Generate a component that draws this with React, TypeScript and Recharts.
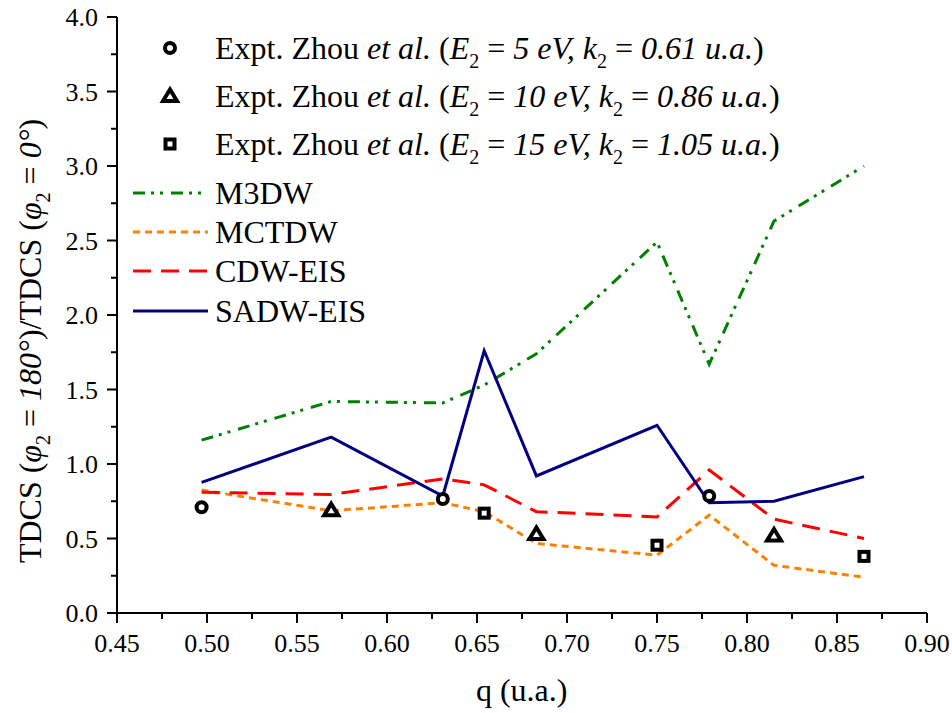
import React from "react";
import {
  ComposedChart,
  Line,
  Scatter,
  XAxis,
  YAxis,
  Legend,
} from "recharts";

// momentum transfer values where the theory curves are sampled
const qValues = [0.497, 0.569, 0.631, 0.654, 0.683, 0.75, 0.779, 0.815, 0.865];

const m3dw = [1.16, 1.42, 1.41, 1.53, 1.74, 2.49, 1.67, 2.63, 3.0];
const mctdw = [0.825, 0.686, 0.74, 0.68, 0.467, 0.388, 0.657, 0.32, 0.24];
const cdwEis = [0.81, 0.795, 0.9, 0.86, 0.68, 0.645, 0.96, 0.63, 0.5];
const sadwEis = [0.877, 1.18, 0.785, 1.76, 0.92, 1.26, 0.74, 0.75, 0.915];

// experiment (Zhou et al.)
const expt5Q = [0.497, 0.631, 0.779];
const expt5 = [0.71, 0.765, 0.785];
const expt10Q = [0.569, 0.683, 0.815];
const expt10 = [0.69, 0.53, 0.52];
const expt15Q = [0.654, 0.75, 0.865];
const expt15 = [0.67, 0.455, 0.38];

const xTicks = [
  0.45, 0.475, 0.5, 0.525, 0.55, 0.575, 0.6, 0.625, 0.65, 0.675, 0.7, 0.725,
  0.75, 0.775, 0.8, 0.825, 0.85, 0.875, 0.9,
];
const yTicks = [
  0, 0.25, 0.5, 0.75, 1, 1.25, 1.5, 1.75, 2, 2.25, 2.5, 2.75, 3, 3.25, 3.5,
  3.75, 4,
];

const toRows = (qs: number[], vs: number[]) => qs.map((q, i) => ({ q, v: vs[i] }));

const FONT = "Liberation Serif";

const isMajor = (v: number, step: number) =>
  Math.abs(v / step - Math.round(v / step)) < 1e-6;

function XTick(props: any) {
  const { x, y, payload } = props;
  const major = isMajor(payload.value, 0.05);
  return (
    <g>
      <line x1={x} y1={y} x2={x} y2={y + (major ? 10 : 6)} stroke="#000" strokeWidth={2} />
      {major && (
        <text x={x} y={y + 39} textAnchor="middle" fontFamily={FONT} fontSize={26} fill="#000">
          {payload.value.toFixed(2)}
        </text>
      )}
    </g>
  );
}

function YTick(props: any) {
  const { x, y, payload } = props;
  const major = isMajor(payload.value, 0.5);
  return (
    <g>
      <line x1={x} y1={y} x2={x - (major ? 10 : 6)} y2={y} stroke="#000" strokeWidth={2} />
      {major && (
        <text x={x - 19} y={y + 9} textAnchor="end" fontFamily={FONT} fontSize={26} fill="#000">
          {payload.value.toFixed(1)}
        </text>
      )}
    </g>
  );
}

function YLabel() {
  return (
    <text
      transform="translate(41,341) rotate(-90)"
      textAnchor="middle"
      fontFamily={FONT}
      fontSize={32}
      fill="#000"
    >
      {"TDCS ("}
      <tspan fontStyle="italic">φ</tspan>
      <tspan fontSize={20} dy={9}>2</tspan>
      <tspan dy={-9}>{" = "}</tspan>
      <tspan fontStyle="italic">180°</tspan>
      {")/TDCS ("}
      <tspan fontStyle="italic">φ</tspan>
      <tspan fontSize={20} dy={9}>2</tspan>
      <tspan dy={-9}>{" = "}</tspan>
      <tspan fontStyle="italic">0°</tspan>
      {")"}
    </text>
  );
}

const Circle = (p: any) => (
  <circle cx={p.cx} cy={p.cy} r={5} fill="#fff" stroke="#000" strokeWidth={4} />
);
const Triangle = (p: any) => (
  <path
    d={`M${p.cx},${p.cy - 6.5} L${p.cx + 7},${p.cy + 5} L${p.cx - 7},${p.cy + 5} Z`}
    fill="#fff"
    stroke="#000"
    strokeWidth={4}
    strokeLinejoin="miter"
  />
);
const Square = (p: any) => (
  <rect x={p.cx - 4.5} y={p.cy - 4.5} width={9} height={9} fill="#fff" stroke="#000" strokeWidth={4} />
);

const exptLegend = [
  { shape: Circle, e: "5", k: "0.61" },
  { shape: Triangle, e: "10", k: "0.86" },
  { shape: Square, e: "15", k: "1.05" },
];

const lineStyles = [
  { name: "M3DW", color: "#008000", dash: "12 6 3 6 3 8", values: m3dw },
  { name: "MCTDW", color: "#ff8000", dash: "7 5", values: mctdw },
  { name: "CDW-EIS", color: "#ff0000", dash: "18 10", values: cdwEis },
  { name: "SADW-EIS", color: "#000080", dash: undefined, values: sadwEis },
];

function ChartLegend() {
  const lineRowsY = [193, 232, 271, 311];
  return (
    <svg width={952} height={713} style={{ position: "absolute", left: 0, top: 0 }}>
      {exptLegend.map((r, i) => {
        const cy = 48 + i * 48;
        const S = r.shape;
        return (
          <g key={r.e}>
            <S cx={170} cy={cy} />
            <text x={215} y={cy + 11} fontFamily={FONT} fontSize={32} fill="#000">
              {"Expt. Zhou "}
              <tspan fontStyle="italic">et al.</tspan>
              {" ("}
              <tspan fontStyle="italic">E</tspan>
              <tspan fontSize={20} dy={9}>2</tspan>
              <tspan dy={-9}>{" = "}</tspan>
              <tspan fontStyle="italic">{`${r.e} eV, k`}</tspan>
              <tspan fontSize={20} dy={9}>2</tspan>
              <tspan dy={-9}>{" = "}</tspan>
              <tspan fontStyle="italic">{`${r.k} u.a.`}</tspan>
              {")"}
            </text>
          </g>
        );
      })}
      {lineStyles.map((l, i) => {
        const y = lineRowsY[i];
        return (
          <g key={l.name}>
            <line x1={133} y1={y} x2={208} y2={y} stroke={l.color} strokeWidth={3} strokeDasharray={l.dash} />
            <text x={215} y={y + 11} fontFamily={FONT} fontSize={32} fill="#000">
              {l.name}
            </text>
          </g>
        );
      })}
    </svg>
  );
}

export default function App() {
  return (
    <div style={{ position: "absolute", left: 0, top: 0, width: 952, height: 713, background: "#fff" }}>
      <ComposedChart width={952} height={713} margin={{ top: 17, right: 25, bottom: 0, left: 0 }}>
        <XAxis
          xAxisId={0}
          dataKey="q"
          type="number"
          domain={[0.45, 0.9]}
          ticks={xTicks}
          interval={0}
          tickSize={0}
          tickMargin={0}
          tickLine={false}
          tick={<XTick />}
          height={100}
          axisLine={{ stroke: "#000", strokeWidth: 2 }}
          allowDataOverflow
        />
        <XAxis
          xAxisId="top"
          orientation="top"
          type="number"
          domain={[0.45, 0.9]}
          height={0}
          tick={false}
          tickLine={false}
          axisLine={{ stroke: "#000", strokeWidth: 2 }}
        />
        <YAxis
          yAxisId={0}
          type="number"
          domain={[0, 4]}
          ticks={yTicks}
          interval={0}
          tickSize={0}
          tickMargin={0}
          tickLine={false}
          tick={<YTick />}
          width={117}
          axisLine={{ stroke: "#000", strokeWidth: 2 }}
          label={<YLabel />}
        />
        <YAxis
          yAxisId="right"
          orientation="right"
          type="number"
          domain={[0, 4]}
          width={0}
          tick={false}
          tickLine={false}
          axisLine={{ stroke: "#000", strokeWidth: 2 }}
        />
        {lineStyles.map((l) => (
          <Line
            key={l.name}
            data={toRows(qValues, l.values)}
            dataKey="v"
            name={l.name}
            stroke={l.color}
            strokeWidth={3}
            strokeDasharray={l.dash}
            dot={false}
            activeDot={false}
            isAnimationActive={false}
          />
        ))}
        <Scatter data={toRows(expt5Q, expt5)} dataKey="v" shape={Circle} isAnimationActive={false} />
        <Scatter data={toRows(expt10Q, expt10)} dataKey="v" shape={Triangle} isAnimationActive={false} />
        <Scatter data={toRows(expt15Q, expt15)} dataKey="v" shape={Square} isAnimationActive={false} />
        <text x={521.7} y={701} textAnchor="middle" fontFamily={FONT} fontSize={32} fill="#000">
          q (u.a.)
        </text>
        <Legend
          layout="horizontal"
          verticalAlign="middle"
          align="center"
          wrapperStyle={{ top: 0, left: 0, width: 952, height: 713 }}
          content={<ChartLegend />}
        />
      </ComposedChart>
    </div>
  );
}
